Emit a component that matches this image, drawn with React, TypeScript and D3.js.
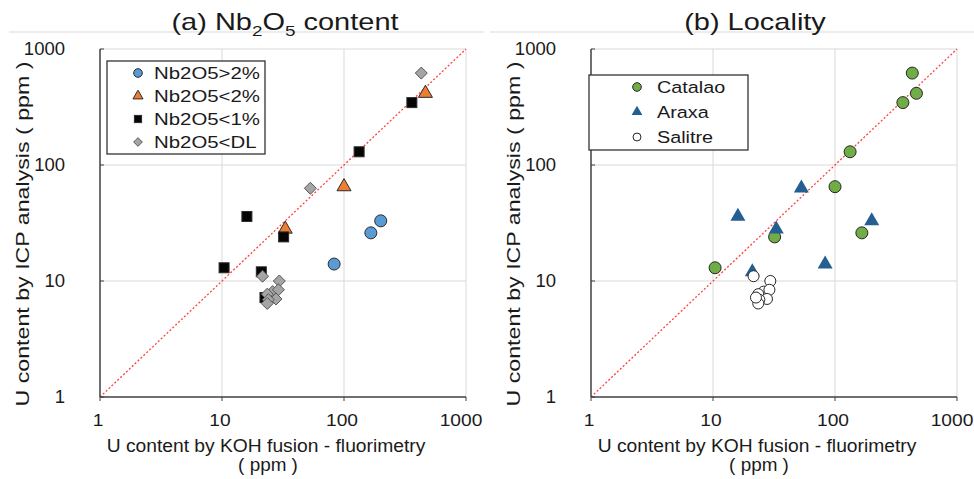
import * as d3 from "d3";

// U content per sample: KOH fusion-fluorimetry (x) vs ICP analysis (y), ppm
const kohFusion = [10.4, 32, 100, 166, 133, 360, 465, 430, 16, 33, 53, 83, 200, 21, 21.5, 29.5, 26, 29, 23.5, 27.7, 24, 23.5, 22.5];
const icpAnalysis = [13, 24, 65, 26, 130, 345, 415, 620, 36, 28, 63, 14, 33, 12, 11, 10, 8.1, 8.4, 7.7, 7.0, 6.9, 6.4, 7.2];
const locality = [
  "Catalao", "Catalao", "Catalao", "Catalao", "Catalao", "Catalao", "Catalao", "Catalao",
  "Araxa", "Araxa", "Araxa", "Araxa", "Araxa", "Araxa",
  "Salitre", "Salitre", "Salitre", "Salitre", "Salitre", "Salitre", "Salitre", "Salitre", "Salitre",
];
const nbGrade = [
  "<1%", "<1%", "<2%", ">2%", "<1%", "<1%", "<2%", "<DL",
  "<1%", "<2%", "<DL", ">2%", ">2%", "<1%",
  "<DL", "<DL", "<DL", "<DL", "<DL", "<DL", "<DL", "<DL", "<1%",
];

const gradeKeys = [">2%", "<2%", "<1%", "<DL"];
const gradeLabels = ["Nb2O5>2%", "Nb2O5<2%", "Nb2O5<1%", "Nb2O5<DL"];
const localityKeys = ["Catalao", "Araxa", "Salitre"];
const axisTicks = [1, 10, 100, 1000];

const FONT = "'Liberation Sans', Arial, sans-serif";
const top = 49, bottom = 397, plotW = 366;

const gradeStyle = {
  ">2%": { shape: "circle", fill: "#5B9BD5", stroke: "#2b2b2b", size: 6 },
  "<2%": { shape: "triangle", fill: "#ED7D31", stroke: "#2b2b2b", size: 7 },
  "<1%": { shape: "square", fill: "#050505", stroke: "#2b2b2b", size: 5 },
  "<DL": { shape: "diamond", fill: "#A5A5A5", stroke: "#555", size: 6 },
};
const localityStyle = {
  Catalao: { shape: "circle", fill: "#70AD47", stroke: "#262626", size: 6 },
  Araxa: { shape: "triangle", fill: "#255E91", stroke: "none", size: 7.5 },
  Salitre: { shape: "circle", fill: "#ffffff", stroke: "#262626", size: 5.5 },
};

function Marker({ x, y, st, scale = 1 }) {
  const s = st.size * scale;
  const common = { fill: st.fill, stroke: st.stroke, strokeWidth: 1 };
  if (st.shape === "circle") return <circle cx={x} cy={y} r={s} {...common} />;
  if (st.shape === "square") return <rect x={x - s} y={y - s} width={2 * s} height={2 * s} {...common} />;
  if (st.shape === "diamond")
    return <path d={`M${x},${y - s}L${x + s},${y}L${x},${y + s}L${x - s},${y}Z`} {...common} />;
  const h = s * 1.732;
  return <path d={`M${x},${y - (2 * h) / 3}L${x + s},${y + h / 3}L${x - s},${y + h / 3}Z`} {...common} />;
}

function SText({ x, y, anchor = "start", size = 16, sx = 1.1, children }) {
  return (
    <g transform={`translate(${x},${y}) scale(${sx},1)`}>
      <text textAnchor={anchor} fontSize={size} fontFamily={FONT} fill="#1a1a1a">
        {children}
      </text>
    </g>
  );
}

function Panel({ x0, frame, title, titleX, keys, styleOf, keyOf, legend }) {
  const x = d3.scaleLog().domain([1, 1000]).range([x0, x0 + plotW]);
  const y = d3.scaleLog().domain([1, 1000]).range([bottom, top]);
  const idx = d3.range(kohFusion.length);
  const labelRight = x0 - 35;
  return (
    <g>
      <line x1={frame[0]} x2={frame[1]} y1={32} y2={32} stroke="#d9d9d9" />
      <SText x={titleX} y={30} anchor="middle" size={23} sx={1.26}>
        {title}
      </SText>
      {axisTicks.slice(1).map((t) => (
        <g key={t}>
          <line x1={x(t)} x2={x(t)} y1={top} y2={bottom} stroke="#d9d9d9" />
          <line x1={x0} x2={x0 + plotW} y1={y(t)} y2={y(t)} stroke="#d9d9d9" />
        </g>
      ))}
      <line x1={x(1)} y1={y(1)} x2={x(1000)} y2={y(1000)} stroke="#ff4040" strokeWidth={1.3} strokeDasharray="2 2" />
      <line x1={x0} x2={x0} y1={top} y2={bottom} stroke="#404040" strokeWidth={1.5} />
      <line x1={x0} x2={x0 + plotW} y1={bottom} y2={bottom} stroke="#404040" strokeWidth={1.5} />
      {axisTicks.map((t) => (
        <g key={t}>
          <line x1={x(t)} x2={x(t)} y1={bottom} y2={bottom + 4} stroke="#404040" />
          <line x1={x0} x2={x0 + 4} y1={y(t)} y2={y(t)} stroke="#404040" />
          <SText x={x(t) - (t === 1000 ? 5 : 2)} y={426} anchor="middle" size={16} sx={1.2}>
            {String(t)}
          </SText>
          <text x={labelRight} y={y(t) + 6} textAnchor="end" fontSize={18.5} fontFamily={FONT} fill="#1a1a1a">
            {String(t)}
          </text>
        </g>
      ))}
      {keys.map((k) =>
        idx
          .filter((i) => keyOf[i] === k)
          .map((i) => <Marker key={k + i} x={x(kohFusion[i])} y={y(icpAnalysis[i])} st={styleOf[k]} />)
      )}
      <SText x={x0 + 166} y={452} anchor="middle" size={18} sx={1.07}>
        U content by KOH fusion - fluorimetry
      </SText>
      <SText x={x0 + 168} y={471} anchor="middle" size={18} sx={1.05}>
        ( ppm )
      </SText>
      <text
        transform={`translate(${x0 - 71},234) rotate(-90)`}
        textAnchor="middle"
        fontSize={18}
        fontFamily={FONT}
        fill="#1a1a1a"
        textLength={345}
        lengthAdjust="spacingAndGlyphs"
      >
        U content by ICP analysis ( ppm )
      </text>
      <rect x={legend.x} y={legend.y} width={legend.w} height={legend.h} fill="#fff" stroke="#333" strokeWidth={1.3} />
      {keys.map((k, i) => (
        <g key={k}>
          <Marker x={legend.mx} y={legend.y0 + i * legend.step} st={styleOf[k]} scale={0.72} />
          <SText x={legend.tx} y={legend.y0 + i * legend.step + 6} size={legend.fs} sx={1.2}>
            {legend.labels[i]}
          </SText>
        </g>
      ))}
    </g>
  );
}

export default function App() {
  return (
    <svg width={974} height={479} style={{ position: "absolute", left: 0, top: 0, background: "#fff" }}>
      <Panel
        x0={100}
        frame={[9, 484]}
        titleX={285}
        title={
          <>
            (a) Nb<tspan fontSize={15} dy={6}>2</tspan>
            <tspan dy={-6}>O</tspan>
            <tspan fontSize={15} dy={6}>5</tspan>
            <tspan dy={-6}> content</tspan>
          </>
        }
        keys={gradeKeys}
        styleOf={gradeStyle}
        keyOf={nbGrade}
        legend={{ x: 107, y: 61, w: 158, h: 93, mx: 138, tx: 154, y0: 73, step: 23, fs: 17, labels: gradeLabels }}
      />
      <Panel
        x0={591}
        frame={[490, 974]}
        titleX={755}
        title="(b) Locality"
        keys={localityKeys}
        styleOf={localityStyle}
        keyOf={locality}
        legend={{ x: 589, y: 75, w: 159, h: 75, mx: 637, tx: 657, y0: 87, step: 25, fs: 16.5, labels: localityKeys }}
      />
    </svg>
  );
}
